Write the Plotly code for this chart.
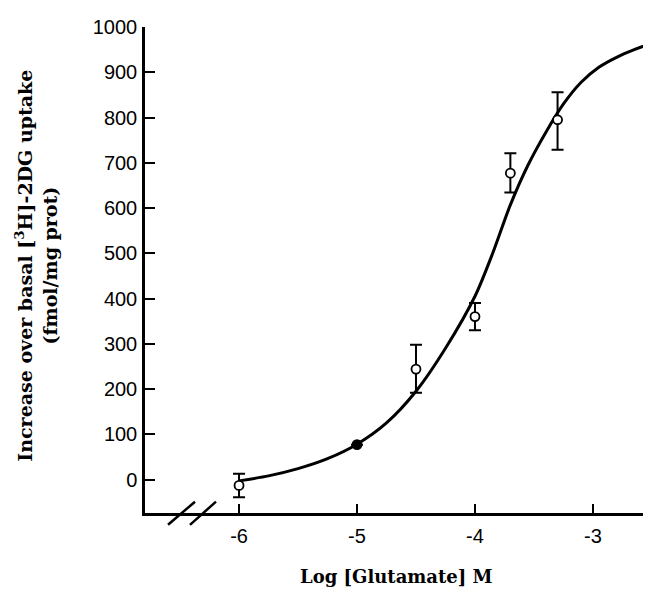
import plotly.graph_objects as go

# Data points (mean ± error)
log_glu = [-6.0, -5.0, -4.5, -4.0, -3.7, -3.3]
uptake = [-13, 77, 244, 360, 677, 795]
err_plus = [26, 0, 54, 30, 44, 61]
err_minus = [26, 0, 52, 30, 43, 66]

# Fitted curve
curve_x = [-6.0, -5.75, -5.5, -5.25, -5.0, -4.75, -4.5, -4.25, -4.0, -3.85, -3.7,
           -3.55, -3.4, -3.25, -3.1, -2.95, -2.8, -2.65, -2.5]
curve_y = [-3, 8, 24, 46, 78, 125, 195, 290, 405, 500, 607,
           695, 767, 830, 878, 911, 933, 950, 964]

x_ticks = [-6, -5, -4, -3]
y_ticks = [0, 100, 200, 300, 400, 500, 600, 700, 800, 900, 1000]

serif = "DejaVu Serif"
sans = "Liberation Sans, Arial"

fig = go.Figure()
fig.add_trace(go.Scatter(
    x=curve_x, y=curve_y, mode="lines", line=dict(color="black", width=3, shape="spline", smoothing=0.8),
    hoverinfo="skip", showlegend=False))
fig.add_trace(go.Scatter(
    x=log_glu, y=uptake, mode="markers",
    error_y=dict(type="data", symmetric=False, array=err_plus, arrayminus=err_minus,
                 color="black", thickness=2, width=6),
    marker=dict(symbol="circle", size=9,
                color=["white", "black", "white", "white", "white", "white"],
                line=dict(color="black", width=1.8)),
    showlegend=False))

fig.update_xaxes(range=[-6.797, -2.508], tickvals=x_ticks, ticktext=[str(t) for t in x_ticks],
                 ticks="inside", ticklen=9, tickwidth=2, tickcolor="black",
                 showline=True, linecolor="black", linewidth=2.5, showgrid=False, zeroline=False,
                 tickfont=dict(family=sans, size=20, color="black"), ticklabelstandoff=3)
fig.update_yaxes(range=[-74, 1000], tickvals=y_ticks, ticktext=[str(t) for t in y_ticks],
                 ticks="inside", ticklen=10, tickwidth=2, tickcolor="black",
                 showline=True, linecolor="black", linewidth=2.5, showgrid=False, zeroline=False,
                 tickfont=dict(family=sans, size=20, color="black"), ticklabelstandoff=1)

# axis break marks
for x0, x1 in [(0.0455, 0.0988), (0.0889, 0.1403)]:
    fig.add_shape(type="line", xref="x domain", yref="y domain", x0=x0, x1=x1, y0=-0.0243, y1=0.0233,
                  line=dict(color="black", width=2.5))

fig.add_annotation(xref="paper", yref="paper", x=0.498, y=-0.130, xanchor="center", yanchor="middle",
                   text="<b>Log [Glutamate] M</b>", showarrow=False,
                   font=dict(family=serif, size=18, color="black"))
fig.add_annotation(xref="paper", yref="paper", x=-0.2134, y=0.509, xanchor="center", yanchor="middle",
                   text="<b>Increase over basal [<sup>3</sup>H]-2DG uptake</b><br><b>(fmol/mg prot)</b>",
                   textangle=-90, showarrow=False,
                   font=dict(family=serif, size=19, color="black"))

# page has an 8px body margin; compensate so the plot area sits where the reference has it
fig.update_layout(width=651, height=589, margin=dict(l=137, r=8, t=12, b=84),
                  plot_bgcolor="white", paper_bgcolor="white")
fig.write_html("out.html")
